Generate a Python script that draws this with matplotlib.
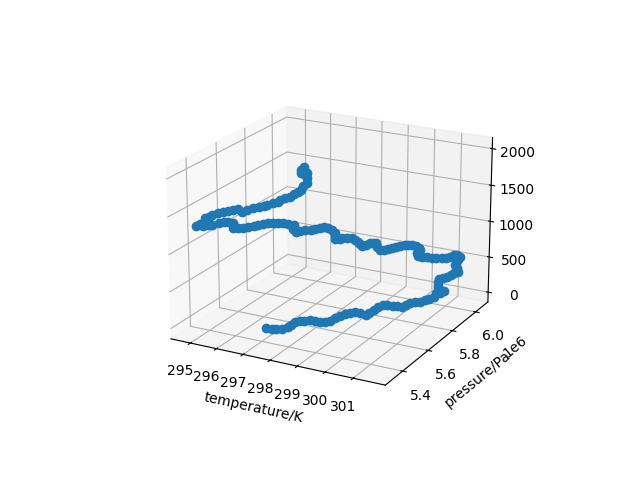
import matplotlib
matplotlib.use("Agg")
import matplotlib.pyplot as plt
import numpy as np

temperature_ticks = [295, 296, 297, 298, 299, 300, 301]
pressure_ticks = [5.4e6, 5.6e6, 5.8e6, 6.0e6]
height_ticks = [0, 500, 1000, 1500, 2000]

temperature = [
    297.01, 297.23, 297.44, 297.61, 297.71, 297.77, 297.82, 297.95, 298.13, 298.29,
    298.51, 298.72, 298.90, 299.06, 299.11, 299.20, 299.33, 299.46, 299.59, 299.84,
    300.09, 300.18, 300.21, 300.26, 300.33, 300.50, 300.74, 300.91, 301.12, 301.19,
    301.28, 301.42, 301.59, 301.71, 301.84, 301.91, 301.84, 302.01, 302.08, 301.96,
    301.80, 301.67, 301.61, 301.72, 301.85, 301.92, 301.99, 302.09, 301.94, 301.79,
    301.72, 301.72, 301.73, 301.62, 301.56, 301.55, 301.50, 301.44, 301.32, 301.21,
    301.05, 300.96, 300.83, 300.71, 300.73, 300.65, 300.51, 300.38, 300.32, 300.24,
    300.19, 300.18, 300.14, 300.09, 300.02, 299.97, 299.81, 299.64, 299.62, 299.56,
    299.57, 299.56, 299.45, 299.33, 299.19, 299.08, 298.97, 298.89, 298.88, 298.80,
    298.66, 298.63, 298.44, 298.27, 298.14, 298.14, 298.08, 298.01, 297.91, 297.88,
    297.82, 297.68, 297.54, 297.38, 297.23, 297.12, 297.05, 296.94, 296.88, 296.86,
    296.80, 296.75, 296.73, 296.62, 296.52, 296.41, 296.39, 296.24, 296.14, 296.12,
    296.12, 296.02, 295.96, 295.87, 295.90, 295.98, 295.86, 295.96, 296.01, 296.09,
    296.25, 296.38, 296.51, 296.68, 297.00, 297.08, 297.16, 297.33, 297.46, 297.59,
    297.70, 297.81, 297.83, 297.95, 298.08, 298.08, 298.11, 298.17, 298.10, 298.08,
    297.93, 297.75, 297.73, 297.60, 297.58, 297.53,
]
# in units of 1e6 Pa
pressure = [
    5.43, 5.43, 5.42, 5.43, 5.45, 5.46, 5.48, 5.49, 5.49, 5.50,
    5.49, 5.49, 5.49, 5.49, 5.52, 5.54, 5.55, 5.56, 5.57, 5.56,
    5.55, 5.56, 5.59, 5.61, 5.63, 5.63, 5.62, 5.62, 5.61, 5.63,
    5.64, 5.65, 5.65, 5.66, 5.67, 5.69, 5.72, 5.72, 5.73, 5.73,
    5.75, 5.78, 5.80, 5.81, 5.81, 5.83, 5.84, 5.85, 5.87, 5.89,
    5.92, 5.93, 5.95, 5.95, 5.93, 5.90, 5.88, 5.86, 5.84, 5.83,
    5.82, 5.80, 5.80, 5.82, 5.84, 5.85, 5.85, 5.85, 5.83, 5.82,
    5.79, 5.76, 5.74, 5.72, 5.70, 5.68, 5.69, 5.72, 5.70, 5.69,
    5.66, 5.63, 5.64, 5.65, 5.65, 5.65, 5.64, 5.62, 5.60, 5.58,
    5.61, 5.62, 5.63, 5.64, 5.63, 5.60, 5.58, 5.56, 5.54, 5.51,
    5.49, 5.50, 5.53, 5.52, 5.51, 5.50, 5.48, 5.46, 5.44, 5.41,
    5.39, 5.36, 5.33, 5.32, 5.30, 5.32, 5.33, 5.32, 5.31, 5.28,
    5.24, 5.23, 5.21, 5.18, 5.20, 5.22, 5.24, 5.25, 5.26, 5.28,
    5.29, 5.30, 5.31, 5.31, 5.28, 5.30, 5.32, 5.33, 5.34, 5.34,
    5.36, 5.37, 5.38, 5.39, 5.40, 5.43, 5.45, 5.46, 5.49, 5.52,
    5.55, 5.59, 5.57, 5.57, 5.58, 5.61,
]
height = [
    0, 10, 30, 40, 50, 60, 80, 90, 100, 120, 130, 140, 150, 170, 180, 190, 210, 220, 230, 250,
    260, 270, 280, 300, 310, 320, 340, 350, 360, 370, 390, 400, 410, 430, 440, 450, 460, 480, 490, 500,
    520, 530, 540, 550, 570, 580, 590, 610, 620, 630, 650, 660, 670, 680, 700, 710, 720, 740, 750, 760,
    770, 790, 800, 810, 830, 840, 850, 860, 880, 890, 900, 920, 930, 940, 950, 970, 980, 990, 1010, 1020,
    1030, 1050, 1060, 1070, 1080, 1100, 1110, 1120, 1140, 1150, 1160, 1170, 1190, 1200, 1210, 1230, 1240, 1250, 1260, 1280,
    1290, 1300, 1320, 1330, 1340, 1350, 1370, 1380, 1390, 1410, 1420, 1430, 1450, 1460, 1470, 1480, 1500, 1510, 1520, 1540,
    1550, 1560, 1570, 1590, 1600, 1610, 1630, 1640, 1650, 1660, 1680, 1690, 1700, 1720, 1730, 1740, 1750, 1770, 1780, 1790,
    1810, 1820, 1830, 1850, 1860, 1870, 1880, 1900, 1910, 1920, 1940, 1950, 1960, 1970, 1990, 2000,
]

fig = plt.figure(figsize=(6.4, 4.8), dpi=100)
ax = fig.add_subplot(111, projection="3d")
ax.view_init(elev=20, azim=-62)

ax.scatter(temperature, np.array(pressure) * 1e6, height, s=36, depthshade=False)

ax.set_xlim(294.25, 302.13)
ax.set_ylim(5.27e6, 6.11e6)
ax.set_zlim(-140, 2150)
ax.set_xticks(temperature_ticks)
ax.set_yticks(pressure_ticks)
ax.set_zticks(height_ticks)
ax.set_xlabel("temperature/K")
ax.set_ylabel("pressure/Pa")

fig.savefig("out.png", dpi=100)
